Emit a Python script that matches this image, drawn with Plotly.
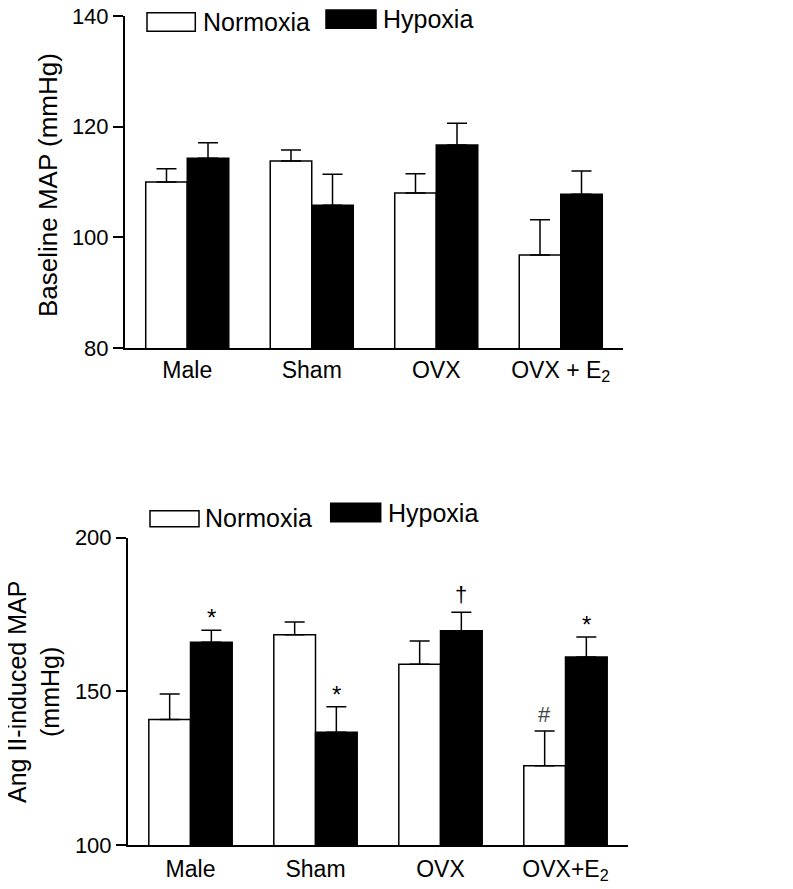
import plotly.graph_objects as go

W, H = 793, 889
BODY = 8  # default page body margin of the written HTML
FW, FH = W - 2 * BODY, H - 2 * BODY

# ---------------- data ----------------
groups_top = ["Male", "Sham", "OVX", "OVX + E<sub>2</sub>"]
groups_bot = ["Male", "Sham", "OVX", "OVX+E<sub>2</sub>"]

base_norm = [110.0, 113.8, 108.0, 96.8]
base_norm_err = [2.4, 2.0, 3.5, 6.4]
base_hyp = [114.3, 105.8, 116.7, 107.8]
base_hyp_err = [2.8, 5.6, 3.9, 4.2]

ang_norm = [140.8, 168.4, 158.8, 125.8]
ang_norm_err = [8.3, 4.2, 7.6, 11.3]
ang_hyp = [166.0, 136.7, 169.7, 161.2]
ang_hyp_err = [3.9, 8.3, 6.0, 6.5]

# significance marks (bottom panel): (group index, series, symbol)
marks = [(0, "hyp", "*"), (1, "hyp", "*"), (2, "hyp", "\u2020"), (3, "hyp", "*"), (3, "norm", "#")]

FONT = "Liberation Sans, Arial, sans-serif"


def px(x):
    return (x - BODY) / FW


def py(y):
    return 1 - (y - BODY) / FH


fig = go.Figure()


def add_bars(cats, nv, ne, hv, he, xa, ya):
    fig.add_trace(go.Bar(
        x=cats, y=nv, name="Normoxia", xaxis=xa, yaxis=ya, showlegend=False,
        marker=dict(color="white", line=dict(color="black", width=1.5)),
        error_y=dict(type="data", symmetric=False, array=ne, arrayminus=[0] * len(ne),
                     color="black", thickness=1.5, width=10),
    ))
    fig.add_trace(go.Bar(
        x=cats, y=hv, name="Hypoxia", xaxis=xa, yaxis=ya, showlegend=False,
        marker=dict(color="black", line=dict(color="black", width=1.5)),
        error_y=dict(type="data", symmetric=False, array=he, arrayminus=[0] * len(he),
                     color="black", thickness=1.5, width=10),
    ))


add_bars(groups_top, base_norm, base_norm_err, base_hyp, base_hyp_err, "x", "y")
add_bars(groups_bot, ang_norm, ang_norm_err, ang_hyp, ang_hyp_err, "x2", "y2")

xcommon = dict(showline=True, linecolor="black", linewidth=2, ticks="", range=[-0.5, 3.5],
               tickfont=dict(family=FONT, size=23, color="black"), ticklabeloverflow="allow",
               showgrid=False, zeroline=False, fixedrange=True, automargin=False)
ycommon = dict(showline=True, linecolor="black", linewidth=2, ticks="outside", ticklen=10,
               tickwidth=2, tickcolor="black", showgrid=False, zeroline=False, automargin=False,
               ticklabeloverflow="allow",
               tickfont=dict(family=FONT, size=22, color="black"))

fig.update_layout(
    width=FW, height=FH,
    margin=dict(l=0, r=0, t=0, b=0, autoexpand=False),
    paper_bgcolor="white", plot_bgcolor="white",
    barmode="group", bargap=0.333, bargroupgap=0,
    showlegend=False,
    xaxis=dict(domain=[px(125), px(623)], anchor="y", ticklabelstandoff=0, **xcommon),
    yaxis=dict(domain=[py(348), py(16)], anchor="x", range=[80, 140], tickvals=[80, 100, 120, 140], **ycommon),
    xaxis2=dict(domain=[px(128), px(628)], anchor="y2", ticklabelstandoff=2, **xcommon),
    yaxis2=dict(domain=[py(845), py(537.7)], anchor="x2", range=[100, 200], tickvals=[100, 150, 200], **ycommon),
    font=dict(family=FONT, color="black"),
)

annotations = []
# y titles
annotations.append(dict(text="Baseline MAP (mmHg)", xref="paper", yref="paper", x=px(48), y=py(185),
                        textangle=-90, showarrow=False, xanchor="center", yanchor="middle",
                        font=dict(family=FONT, size=26, color="black")))
annotations.append(dict(text="Ang II-induced MAP<br>(mmHg)", xref="paper", yref="paper", x=px(33), y=py(692),
                        textangle=-90, showarrow=False, xanchor="center", yanchor="middle",
                        font=dict(family=FONT, size=25, color="black")))

# legends (drawn manually)
shapes = []


def legend(nbox, hbox, ntext_xy, htext_xy, size):
    for (x0, y0, x1, y1), fill in ((nbox, "white"), (hbox, "black")):
        shapes.append(dict(type="rect", xref="paper", yref="paper", x0=px(x0), x1=px(x1), y0=py(y1), y1=py(y0),
                           line=dict(color="black", width=1.5), fillcolor=fill))
    for (tx, ty), t in ((ntext_xy, "Normoxia"), (htext_xy, "Hypoxia")):
        annotations.append(dict(text=t, xref="paper", yref="paper", x=px(tx), y=py(ty), showarrow=False,
                                xanchor="left", yanchor="middle", font=dict(family=FONT, size=size, color="black")))


legend((147, 12.7, 195.3, 31.3), (326, 10, 376, 28.3), (201, 22), (381, 19), 25)
legend((150, 510.7, 199, 526.7), (330.7, 503.3, 380.7, 521.7), (203, 518), (386, 513), 25)

# significance marks
off = 0.5 * (1 - 0.333) / 2
shift = {"*": -3, "\u2020": 3, "#": 2}
for gi, series, sym in marks:
    if series == "hyp":
        xv = gi + off
        yv = ang_hyp[gi] + ang_hyp_err[gi]
    else:
        xv = gi - off
        yv = ang_norm[gi] + ang_norm_err[gi]
    col = "black" if sym != "#" else "#444444"
    annotations.append(dict(text=sym, xref="x2", yref="y2", x=xv, y=yv, showarrow=False,
                            xanchor="center", yanchor="bottom", yshift=shift[sym],
                            font=dict(family=FONT, size=24 if sym == "*" else 22, color=col)))

fig.update_layout(annotations=annotations, shapes=shapes)
fig.write_html("out.html")
